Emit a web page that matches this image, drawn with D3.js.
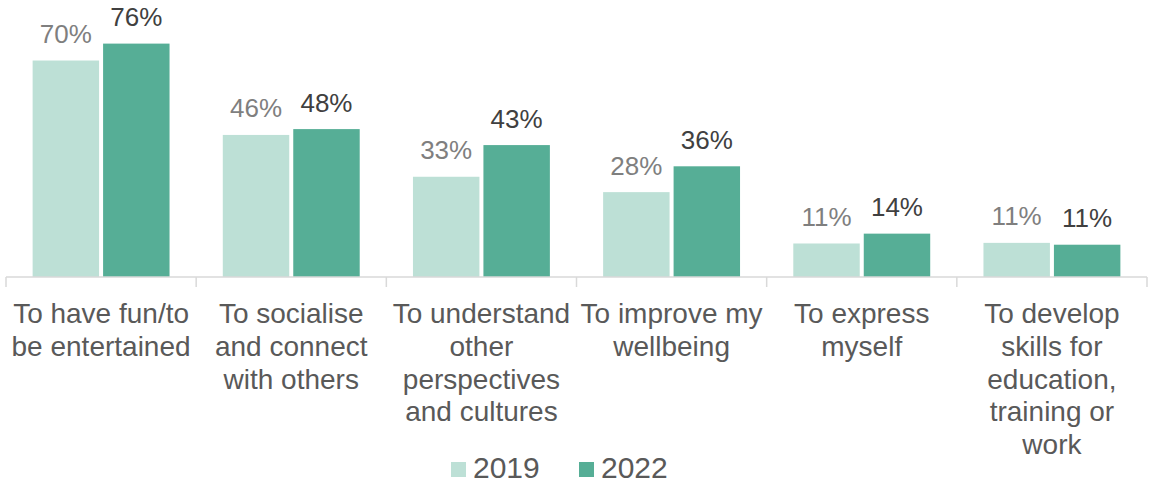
<!DOCTYPE html>
<html>
<head>
<meta charset="utf-8">
<script src="https://cdn.jsdelivr.net/npm/d3@7"></script>
<style>
  body { margin: 0; background: #fff; }
  svg { display: block; font-family: "Liberation Sans", Arial, sans-serif; }
</style>
</head>
<body>
<div id="chart"></div>
<script>
'use strict';

// categories (wrapped as in the original)
const categories = [
    "To have fun/to be entertained",
    "To socialise and connect with others",
    "To understand other perspectives and cultures",
    "To improve my wellbeing",
    "To express myself",
    "To develop skills for education, training or work"
];
const categoryLines = [
    ["To have fun/to", "be entertained"],
    ["To socialise", "and connect", "with others"],
    ["To understand", "other", "perspectives", "and cultures"],
    ["To improve my", "wellbeing"],
    ["To express", "myself"],
    ["To develop", "skills for", "education,", "training or", "work"]
];
const seriesNames = ["2019", "2022"];
const values2019 = [70.4, 46.2, 32.6, 27.6, 10.9, 11.1];
const values2022 = [75.9, 48.1, 42.9, 36.0, 14.1, 10.5];
const seriesColors = ["#bde0d6", "#56ae96"];
const labelColors = ["#7f7f7f", "#404040"];

const width = 1149;
const height = 484;
const margin = {top: 31, right: 2, bottom: 207, left: 6};
const baseY = height - margin.bottom;

const svg = d3.select("#chart")
    .append("svg")
    .attr("viewBox", [0, 0, width, height])
    .attr("width", width)
    .attr("height", height);

const x0 = d3.scaleBand()
    .domain(categories)
    .range([margin.left, width - margin.right])
    .paddingInner(0)
    .paddingOuter(0);

const x1 = d3.scaleBand()
    .domain(seriesNames)
    .range([x0.bandwidth() * 0.14, x0.bandwidth() * 0.86])
    .paddingInner(0.057);

const y = d3.scaleLinear()
    .domain([0, 80])
    .range([baseY, margin.top]);

const rows = categories.map((c, i) => ({
    category: c,
    lines: categoryLines[i],
    values: [values2019[i], values2022[i]]
}));

// bars
const group = svg.append("g")
    .selectAll("g")
    .data(rows)
    .join("g")
        .attr("transform", d => `translate(${x0(d.category)},0)`);

group.selectAll("rect")
    .data(d => d.values.map((v, j) => ({series: seriesNames[j], value: v, j: j})))
    .join("rect")
        .attr("x", d => x1(d.series))
        .attr("y", d => y(d.value))
        .attr("width", x1.bandwidth())
        .attr("height", d => baseY - y(d.value))
        .attr("fill", d => seriesColors[d.j]);

group.selectAll("text.value")
    .data(d => d.values.map((v, j) => ({series: seriesNames[j], value: v, j: j})))
    .join("text")
        .attr("class", "value")
        .attr("x", d => x1(d.series) + x1.bandwidth() / 2)
        .attr("y", d => y(d.value) - 17.5)
        .attr("text-anchor", "middle")
        .attr("font-size", 26)
        .attr("fill", d => labelColors[d.j])
        .text(d => Math.round(d.value) + "%");

// axis
const xAxis = g => g.attr("transform", `translate(0, ${baseY})`)
    .call(g => g.append("line")
        .attr("x1", margin.left)
        .attr("x2", width - margin.right)
        .attr("stroke", "#d9d9d9")
        .attr("stroke-width", 1.5))
    .call(g => g.selectAll("line.tick")
        .data(categories.map(c => x0(c)).concat([x0.range()[1]]))
        .join("line")
            .attr("class", "tick")
            .attr("x1", d => d)
            .attr("x2", d => d)
            .attr("y1", 0)
            .attr("y2", 10)
            .attr("stroke", "#d9d9d9")
            .attr("stroke-width", 1.5))
    .call(g => g.selectAll("text")
        .data(rows)
        .join("text")
            .attr("x", d => x0(d.category) + x0.bandwidth() / 2)
            .attr("y", 46)
            .attr("text-anchor", "middle")
            .attr("font-size", 28)
            .attr("fill", "#595959")
            .selectAll("tspan")
            .data(d => d.lines)
            .join("tspan")
                .attr("x", function () { return this.parentNode.getAttribute("x"); })
                .attr("dy", (d, i) => i === 0 ? 0 : 32.8)
                .text(d => d));

svg.append("g").call(xAxis);

// legend
const legendX = [451, 579];
const legend = svg.append("g")
    .selectAll("g")
    .data(seriesNames)
    .join("g")
        .attr("transform", (d, i) => `translate(${legendX[i]}, 462)`);

legend.append("rect")
    .attr("width", 15)
    .attr("height", 15)
    .attr("fill", (d, i) => seriesColors[i]);

legend.append("text")
    .attr("x", 22)
    .attr("y", 15.5)
    .attr("font-size", 30)
    .attr("fill", "#595959")
    .text(d => d);
</script>
</body>
</html>
